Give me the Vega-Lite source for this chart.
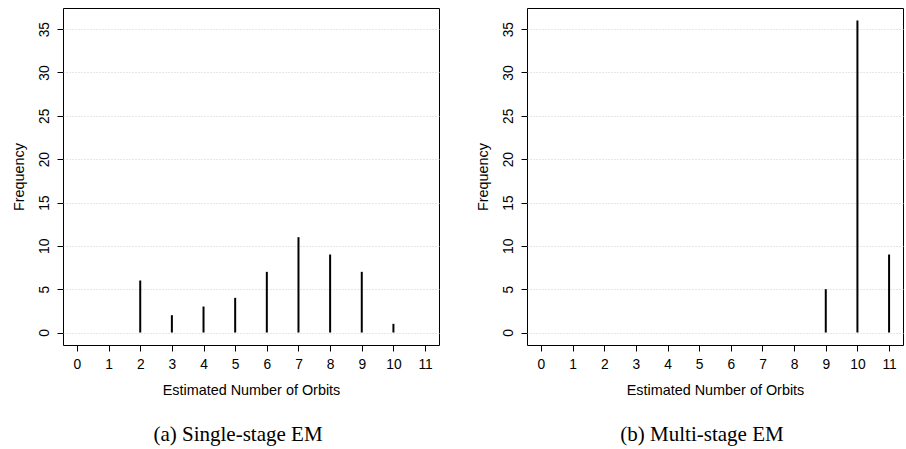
{
  "$schema": "https://vega.github.io/schema/vega-lite/v6.json",
  "background": "white",
  "padding": {"left": 10, "top": 7, "right": 0, "bottom": 0},
  "bounds": "flush",
  "spacing": 88,
  "config": {
    "font": "Liberation Sans",
    "view": {"stroke": "#000", "strokeWidth": 1},
    "axisX": {
      "values": [0, 1, 2, 3, 4, 5, 6, 7, 8, 9, 10, 11],
      "domain": false,
      "grid": false,
      "tickSize": 6,
      "tickColor": "#000",
      "labelFontSize": 13.8,
      "labelColor": "#000",
      "labelPadding": 6,
      "labelFlush": false,
      "labelOverlap": false,
      "titleFontSize": 14.4,
      "titleFontWeight": "normal",
      "titleColor": "#000",
      "titlePadding": 12.5
    },
    "axisY": {
      "values": [0, 5, 10, 15, 20, 25, 30, 35],
      "domain": false,
      "grid": true,
      "gridColor": "#cfcfcf",
      "gridDash": [1, 2],
      "tickSize": 6,
      "tickColor": "#000",
      "labelAngle": 270,
      "labelAlign": "center",
      "labelBaseline": "bottom",
      "labelFontSize": 13.8,
      "labelColor": "#000",
      "labelPadding": 6,
      "labelFlush": false,
      "labelOverlap": false,
      "titleFontSize": 14.4,
      "titleFontWeight": "normal",
      "titleColor": "#000",
      "titlePadding": 11
    },
    "title": {
      "font": "Liberation Serif",
      "fontSize": 21,
      "fontWeight": "normal",
      "color": "#000",
      "orient": "bottom",
      "anchor": "middle",
      "frame": "group",
      "baseline": "alphabetic",
      "offset": 27
    }
  },
  "datasets": {
    "single_stage": [
      {"orbits": 2, "frequency": 6},
      {"orbits": 3, "frequency": 2},
      {"orbits": 4, "frequency": 3},
      {"orbits": 5, "frequency": 4},
      {"orbits": 6, "frequency": 7},
      {"orbits": 7, "frequency": 11},
      {"orbits": 8, "frequency": 9},
      {"orbits": 9, "frequency": 7},
      {"orbits": 10, "frequency": 1}
    ],
    "multi_stage": [
      {"orbits": 9, "frequency": 5},
      {"orbits": 10, "frequency": 36},
      {"orbits": 11, "frequency": 9}
    ]
  },
  "hconcat": [
    {
      "width": 376,
      "height": 337,
      "title": {"text": "(a) Single-stage EM", "dx": -13},
      "data": {"name": "single_stage"},
      "mark": {"type": "rule", "color": "#000", "strokeWidth": 2},
      "encoding": {
        "x": {
          "field": "orbits",
          "type": "quantitative",
          "title": "Estimated Number of Orbits",
          "scale": {"domain": [-0.44, 11.44], "nice": false, "zero": false}
        },
        "y": {
          "field": "frequency",
          "type": "quantitative",
          "title": "Frequency",
          "scale": {"domain": [-1.44, 37.44], "nice": false, "zero": false}
        },
        "y2": {"datum": 0}
      }
    },
    {
      "width": 376,
      "height": 337,
      "title": {"text": "(b) Multi-stage EM", "dx": -13},
      "data": {"name": "multi_stage"},
      "mark": {"type": "rule", "color": "#000", "strokeWidth": 2},
      "encoding": {
        "x": {
          "field": "orbits",
          "type": "quantitative",
          "title": "Estimated Number of Orbits",
          "scale": {"domain": [-0.44, 11.44], "nice": false, "zero": false}
        },
        "y": {
          "field": "frequency",
          "type": "quantitative",
          "title": "Frequency",
          "scale": {"domain": [-1.44, 37.44], "nice": false, "zero": false}
        },
        "y2": {"datum": 0}
      }
    }
  ]
}
